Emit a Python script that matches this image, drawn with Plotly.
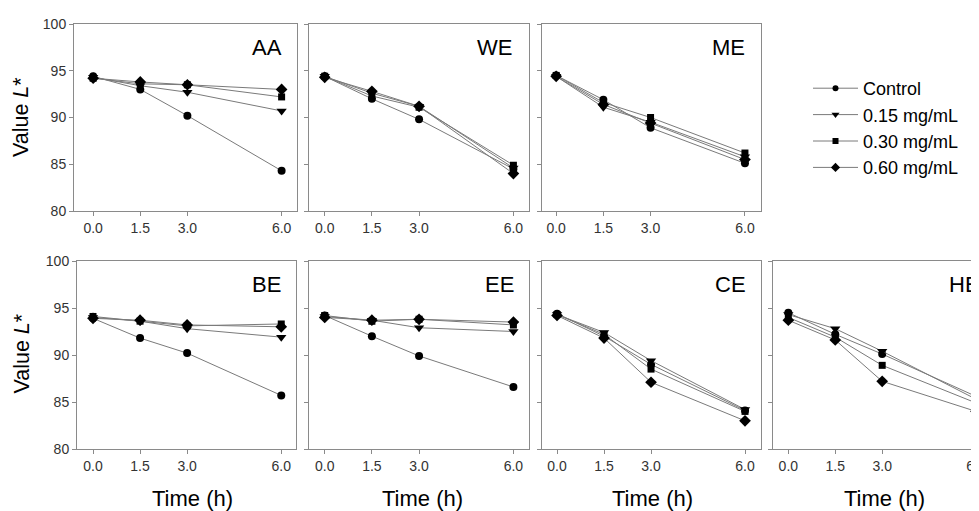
import plotly.graph_objects as go

W, H = 979, 511
OFF = 8  # page body margin: the figure is drawn 8 px right/down in the window

times = [0.0, 1.5, 3.0, 6.0]
panels = ["AA", "WE", "ME", "BE", "EE", "CE", "HE"]
series_names = ["Control", "0.15 mg/mL", "0.30 mg/mL", "0.60 mg/mL"]

control = {
    "AA": [94.4, 93.0, 90.2, 84.3],
    "WE": [94.4, 92.0, 89.8, 84.5],
    "ME": [94.5, 91.9, 88.9, 85.1],
    "BE": [93.9, 91.8, 90.2, 85.7],
    "EE": [94.2, 92.0, 89.9, 86.6],
    "CE": [94.4, 92.0, 89.0, 84.1],
    "HE": [94.5, 92.2, 90.1, 85.6],
}
c015 = {
    "AA": [94.3, 93.4, 92.7, 90.7],
    "WE": [94.4, 92.6, 91.2, 84.6],
    "ME": [94.4, 91.1, 89.5, 85.8],
    "BE": [94.0, 93.6, 92.8, 91.9],
    "EE": [94.1, 93.7, 92.9, 92.5],
    "CE": [94.3, 92.4, 89.4, 84.2],
    "HE": [94.3, 92.8, 90.4, 85.3],
}
c030 = {
    "AA": [94.2, 93.6, 93.5, 92.2],
    "WE": [94.4, 92.3, 91.1, 84.9],
    "ME": [94.5, 91.6, 90.0, 86.2],
    "BE": [94.1, 93.6, 93.1, 93.3],
    "EE": [94.2, 93.6, 93.8, 93.2],
    "CE": [94.3, 92.2, 88.5, 84.0],
    "HE": [94.0, 91.9, 88.9, 84.9],
}
c060 = {
    "AA": [94.2, 93.8, 93.5, 93.0],
    "WE": [94.3, 92.8, 91.2, 84.0],
    "ME": [94.4, 91.4, 89.4, 85.5],
    "BE": [93.9, 93.7, 93.2, 93.0],
    "EE": [94.0, 93.7, 93.8, 93.5],
    "CE": [94.2, 91.8, 87.1, 83.0],
    "HE": [93.7, 91.6, 87.2, 84.0],
}
y_ticks = [80, 85, 90, 95, 100]
x_ticks = [0.0, 1.5, 3.0, 6.0]
x_ticklabels = ["0.0", "1.5", "3.0", "6.0"]


def PX(px):
    return min(max((px - OFF) / W, 0), 1)


def PY(px):
    return min(max(1 - (px - OFF) / H, 0), 1)


# layout (window-pixel boxes) ---------------------------------------------
boxes = {  # x0, x1, ytop, ybottom in window px
    "AA": (74, 297, 24, 211),
    "WE": (309, 528.5, 24, 211),
    "ME": (542, 761, 24, 211),
    "BE": (77, 296, 261, 449),
    "EE": (309, 528.5, 261, 449),
    "CE": (542, 761, 261, 449),
    "HE": (773, 987, 261, 449),
}
xranges = {
    "AA": [-0.61, 6.49],
    "WE": [-0.50, 6.48],
    "ME": [-0.45, 6.51],
    "BE": [-0.51, 6.47],
    "EE": [-0.50, 6.48],
    "CE": [-0.48, 6.51],
    "HE": [-0.49, 6.35],
}
label_shift = {"AA": -13, "WE": -15, "ME": -14, "BE": -13, "EE": -13, "CE": -13, "HE": -5}

FONT = "Arial, Liberation Sans, sans-serif"
FRAME = "#8a8a8a"
LINE = "#7a7a7a"
TICKC = "#333333"

symbols = ["circle", "triangle-down", "square", "diamond"]
msizes = [8, 9, 7, 9]
legend_sizes = [6, 7, 6, 7]
data_sets = [control, c015, c030, c060]

fig = go.Figure()
layout = {}
annotations = []
for i, p in enumerate(panels):
    k = "" if i == 0 else str(i + 1)
    x0, x1, yt, yb = boxes[p]
    for j, (name, ds) in enumerate(zip(series_names, data_sets)):
        fig.add_trace(go.Scatter(
            x=times, y=ds[p], mode="lines+markers", name=name,
            xaxis="x" + k, yaxis="y" + k,
            line=dict(color=LINE, width=1),
            marker=dict(symbol=symbols[j], size=msizes[j], color="black",
                        line=dict(width=0)),
            showlegend=False, legendgroup=name,
        ))
    show_ylab = p in ("AA", "BE")
    layout["xaxis" + k] = dict(
        domain=[PX(x0), PX(x1)], anchor="y" + k, range=xranges[p],
        tickvals=x_ticks, ticktext=x_ticklabels, ticks="outside", ticklen=4,
        tickcolor=FRAME, showline=True, linecolor=FRAME, linewidth=1,
        mirror=True, showgrid=False, zeroline=False, automargin=False,
        tickfont=dict(family=FONT, size=14, color=TICKC),
    )
    layout["yaxis" + k] = dict(
        domain=[PY(yb), PY(yt)], anchor="x" + k, range=[80, 100],
        tickvals=y_ticks, ticks="outside", ticklen=4, tickcolor=FRAME,
        showticklabels=show_ylab, showline=True, linecolor=FRAME, linewidth=1,
        mirror=(p != "HE"), showgrid=False, zeroline=False, automargin=False,
        tickfont=dict(family=FONT, size=14, color=TICKC),
    )
    annotations.append(dict(
        text=p, xref="x" + k + " domain", yref="y" + k + " domain",
        x=1, y=1, xanchor="right", yanchor="middle",
        xshift=label_shift[p], yshift=-23, showarrow=False,
        font=dict(family=FONT, size=22, color="black"),
    ))

# legend entries (no data of their own; they only describe the series)
for j, name in enumerate(series_names):
    fig.add_trace(go.Scatter(
        x=[None], y=[None], mode="lines+markers", name=name,
        line=dict(color=LINE, width=1),
        marker=dict(symbol=symbols[j], size=legend_sizes[j], color="black",
                    line=dict(width=0)),
        showlegend=True, legendgroup=name, hoverinfo="skip",
    ))

for yc in (117, 353.5):
    annotations.append(dict(
        text="Value <i>L</i>*", xref="paper", yref="paper",
        x=PX(21), y=PY(yc), textangle=-90, showarrow=False,
        xanchor="center", yanchor="middle",
        font=dict(family=FONT, size=21.5, color="black"),
    ))
for xc in (192, 422, 652, 884):
    annotations.append(dict(
        text="Time (h)", xref="paper", yref="paper",
        x=PX(xc), y=PY(498), showarrow=False,
        xanchor="center", yanchor="middle",
        font=dict(family=FONT, size=22, color="black"),
    ))

fig.update_layout(
    template="none",
    width=W, height=H, margin=dict(l=0, r=0, t=0, b=0, pad=0, autoexpand=False),
    paper_bgcolor="white", plot_bgcolor="white",
    showlegend=True,
    legend=dict(
        x=PX(808), y=PY(70), xanchor="left", yanchor="top",
        font=dict(family=FONT, size=18, color="black"),
        bgcolor="rgba(0,0,0,0)", borderwidth=0, tracegroupgap=0,
        itemwidth=45,
    ),
    annotations=annotations,
    **layout,
)

fig.write_html("out.html")
